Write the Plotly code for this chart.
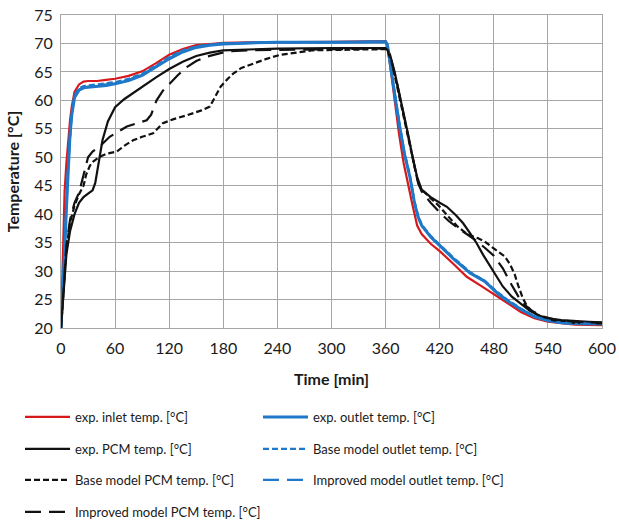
import plotly.graph_objects as go

# ---------------- data ----------------
t_inlet = [0, 1, 2, 3, 4, 6, 8, 10, 12, 15, 20, 25, 30, 40, 50, 60, 75, 90, 105, 120, 135, 150, 165, 180, 210, 240, 300, 360,
           362, 366, 370, 375, 380, 385, 390, 395, 400, 410, 420, 435, 450, 465, 480, 495, 510, 525, 540, 555, 570, 600]
T_inlet = [20, 25, 32, 39, 44, 49, 53, 56.5, 59, 61.5, 62.8, 63.3, 63.4, 63.4, 63.6, 63.8, 64.3, 65.1, 66.5, 68.0, 69.0, 69.7, 69.9, 70.1, 70.2, 70.2, 70.3, 70.4,
           69.5, 65, 60, 54, 49, 45, 41.5, 38, 36.5, 34.8, 33.5, 31.3, 29, 27.5, 26, 24.4, 22.8, 21.7, 21.1, 20.8, 20.6, 20.5]

t_outlet = [0, 2, 4, 6, 8, 10, 12, 15, 20, 25, 30, 40, 50, 60, 75, 90, 105, 120, 135, 150, 165, 180, 210, 240, 300, 360,
            362, 367, 372, 376, 381, 387, 392, 396, 400, 410, 421, 435, 454, 470, 484, 495, 510, 525, 540, 555, 570, 600]
T_outlet = [20, 26, 33, 41, 48.5, 54, 57.5, 60.5, 61.8, 62.2, 62.3, 62.4, 62.6, 62.9, 63.5, 64.4, 65.8, 67.3, 68.5, 69.3, 69.7, 69.9, 70.1, 70.2, 70.2, 70.3,
            69.8, 64, 59, 55, 50.5, 46.5, 42, 39.5, 38, 36, 34.3, 32.2, 29.6, 28.2, 26.1, 24.8, 23.3, 22, 21.3, 20.9, 20.8, 20.7]

t_pcm = [0, 3, 6, 10, 15, 20, 25, 30, 35, 38, 42, 46, 52, 60, 70, 80, 90, 105, 120, 135, 150, 165, 180, 210, 240, 300, 360,
         362, 365, 370, 375, 380, 385, 390, 395, 400, 410, 420, 428, 438, 446, 454, 461, 468, 476, 483, 490, 500, 509, 520, 530, 540, 555, 570, 585, 600]
T_pcm = [20, 27, 33, 37, 40, 42, 43, 43.6, 44.2, 45.5, 49, 53, 56.3, 58.8, 60.2, 61.3, 62.3, 64, 65.5, 66.8, 67.8, 68.4, 68.8, 69, 69.1, 69.2, 69.2,
         69, 68, 65, 61.5, 58, 54, 50, 46.5, 44.3, 43, 42, 41.3, 39.8, 38.4, 36.6, 34.9, 32.9, 30.8, 29, 27.3, 25.5, 24.3, 23, 22.2, 21.7, 21.4, 21.2, 21.1, 21]

t_base_out = [0, 2, 4, 6, 8, 10, 12, 15, 20, 25, 30, 40, 50, 60, 75, 90, 105, 120, 135, 150, 165, 180, 210, 240, 300, 360,
              362, 367, 372, 376, 381, 387, 392, 396, 400, 410, 421, 435, 454, 470, 484, 495, 510, 525, 540, 555, 570, 600]
T_base_out = [20, 26.5, 33.5, 41.5, 49, 54.5, 58, 61, 62.1, 62.5, 62.6, 62.7, 62.9, 63.2, 63.8, 64.7, 66.1, 67.6, 68.8, 69.5, 69.8, 70.0, 70.1, 70.2, 70.2, 70.3,
              69.6, 64.2, 59.3, 55.3, 50.8, 46.8, 42.3, 39.8, 38.2, 36.2, 34.5, 32.4, 29.8, 28.3, 26.3, 25.0, 23.4, 22.1, 21.4, 21.0, 20.8, 20.7]

t_base_pcm = [0, 3, 6, 10, 15, 20, 25, 28, 32, 36, 43, 50, 62, 70, 80, 90, 102, 113, 125, 140, 155, 165, 172, 177, 185, 191, 200, 213, 228, 243, 260, 280, 320, 360,
              362, 366, 372, 378, 384, 390, 396, 400, 410, 420, 430, 440, 448, 455, 462, 470, 478, 486, 492, 498, 503, 507, 512, 517, 525, 540, 555, 570, 600]
T_base_pcm = [20, 28, 34, 38.5, 41.5, 43.5, 45, 47, 48.5, 49.3, 50.1, 50.6, 51, 52, 53, 53.6, 54.2, 56, 56.7, 57.4, 58.2, 58.9, 61, 62.4, 63.8, 64.7, 65.7, 66.5, 67.3, 68, 68.4, 68.8, 68.9, 69.0,
              68.8, 67, 63, 58.5, 54, 49.5, 45.5, 44.3, 42.8, 41.3, 39.5, 37.8, 36.8, 36.2, 35.8, 35.2, 34.2, 33.3, 32.6, 31.2, 29.5, 27.5, 25.3, 23.8, 22.6, 21.5, 21.1, 20.9, 20.8]

t_impr_out = [0, 2, 4, 6, 8, 10, 12, 15, 20, 25, 30, 40, 50, 60, 75, 90, 105, 120, 135, 150, 165, 180, 210, 240, 300, 360,
              362, 367, 372, 376, 381, 387, 392, 396, 400, 410, 421, 435, 454, 470, 484, 495, 510, 525, 540, 555, 570, 600]
T_impr_out = [20, 26.2, 33.2, 41.2, 48.7, 54.2, 57.7, 60.7, 61.9, 62.3, 62.4, 62.5, 62.7, 63.0, 63.6, 64.5, 65.9, 67.4, 68.6, 69.4, 69.8, 70.0, 70.1, 70.2, 70.2, 70.3,
              69.7, 64.1, 59.1, 55.1, 50.6, 46.6, 42.1, 39.6, 38.1, 36.1, 34.4, 32.3, 29.7, 28.2, 26.2, 24.9, 23.3, 22.0, 21.3, 20.9, 20.8, 20.7]

t_impr_pcm = [0, 3, 6, 10, 15, 20, 25, 30, 35, 43, 54, 73, 95, 100, 106, 113, 121, 130, 140, 150, 162, 184, 210, 240, 300, 360,
              362, 366, 372, 378, 384, 390, 396, 400, 410, 420, 430, 440, 450, 460, 470, 480, 490, 500, 510, 520, 535, 550, 570, 600]
T_impr_pcm = [20, 28, 34.5, 39, 42, 43.8, 47, 50, 51, 51.9, 53.6, 55.4, 56.5, 57.5, 60, 61.7, 63, 64.5, 65.9, 66.9, 67.7, 68.6, 68.8, 68.9, 69, 69.1,
              68.9, 67.2, 63.5, 59, 54.5, 50, 45.5, 44, 42, 40.3, 38.8, 37.6, 36.5, 35.4, 34.1, 32.7, 30.5, 27.5, 24.8, 23.2, 22, 21.4, 21.1, 20.9]

names = ["exp. inlet temp. [°C]", "exp. outlet temp. [°C]", "exp. PCM temp. [°C]",
         "Base model outlet temp. [°C]", "Base model PCM temp. [°C]",
         "Improved model outlet temp. [°C]", "Improved model PCM temp. [°C]"]

x_ticks = [0, 60, 120, 180, 240, 300, 360, 420, 480, 540, 600]
y_ticks = [20, 25, 30, 35, 40, 45, 50, 55, 60, 65, 70, 75]

RED = "#d7191c"
BLUE = "#1f78c8"
BLACK = "#111111"
FONT = "Lato"

series = [
    (t_inlet, T_inlet, RED, "solid", 2.2),
    (t_outlet, T_outlet, BLUE, "solid", 3),
    (t_pcm, T_pcm, BLACK, "solid", 2.2),
    (t_base_out, T_base_out, BLUE, "6px,3px", 2.2),
    (t_base_pcm, T_base_pcm, BLACK, "6px,3px", 2.2),
    (t_impr_out, T_impr_out, BLUE, "16px,8px", 2.2),
    (t_impr_pcm, T_impr_pcm, BLACK, "16px,8px", 2.2),
]

# legend placement: two columns, four rows (one legend box per entry)
col_x = [20, 258]
row_y = [417, 449, 480, 512]
legend_ids = ["legend", "legend2", "legend3", "legend4", "legend5", "legend6", "legend7"]

fig = go.Figure()
for i, ((tx, ty, col, dash, w), nm) in enumerate(zip(series, names)):
    fig.add_trace(go.Scatter(x=tx, y=ty, mode="lines", name=nm, legend=legend_ids[i],
                             showlegend=True,
                             line=dict(color=col, dash=dash, width=w)))

leg_layout = {}
for i, lid in enumerate(legend_ids):
    leg_layout[lid] = dict(orientation="h", xref="container", yref="container",
                           x=col_x[i % 2] / 619, y=1 - row_y[i // 2] / 520,
                           xanchor="left", yanchor="middle",
                           font=dict(family=FONT, size=13, color="#1a1a1a"),
                           bgcolor="rgba(0,0,0,0)", itemwidth=45, itemclick=False)

fig.update_layout(
    width=619, height=520,
    showlegend=True,
    margin=dict(l=61, r=17, t=15, b=192, autoexpand=False),
    paper_bgcolor="white", plot_bgcolor="white",
    font=dict(family=FONT, color="#1a1a1a"),
    xaxis=dict(range=[0, 600], tickvals=x_ticks, ticktext=[str(v) for v in x_ticks],
               showgrid=True, gridcolor="#a6a6a6", gridwidth=1,
               showline=True, linecolor="#a6a6a6", linewidth=1, mirror=True,
               ticks="", zeroline=False, ticklabelstandoff=6, automargin=False,
               tickfont=dict(family=FONT, size=16, color="#1a1a1a"),
               title=dict(text="<b>Time [min]</b>", font=dict(family=FONT, size=16, color="#1a1a1a"), standoff=17)),
    yaxis=dict(range=[20, 75], tickvals=y_ticks, ticktext=[str(v) for v in y_ticks],
               showgrid=True, gridcolor="#a6a6a6", gridwidth=1,
               showline=True, linecolor="#a6a6a6", linewidth=1, mirror=True,
               ticks="", zeroline=False, ticklabelstandoff=4, automargin=False,
               tickfont=dict(family=FONT, size=16, color="#1a1a1a"),
               title=dict(text="<b>Temperature [°C]</b>", font=dict(family=FONT, size=16, color="#1a1a1a"), standoff=10)),
    **leg_layout,
)

fig.write_html("out.html", config={"displayModeBar": False},
               post_script="document.body.style.margin='0';")
